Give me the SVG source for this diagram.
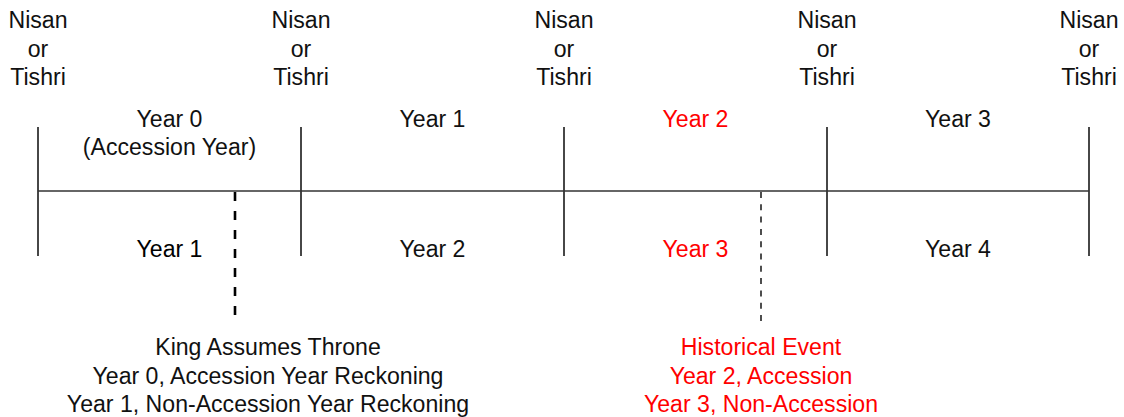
<svg xmlns="http://www.w3.org/2000/svg" width="1124" height="417" viewBox="0 0 1124 417">
  <style>
    text { font-family: "Liberation Sans", Arial, sans-serif; font-size: 23.1px; text-anchor: middle; fill: #111; }
    .red { fill: #ff0000; }
    .tick { stroke: #333; stroke-width: 1.8; fill: none; }
    .axis { stroke: #333; stroke-width: 1.6; fill: none; }
    .event-king { stroke: #000; stroke-width: 2.6; stroke-dasharray: 9 10; fill: none; }
    .event-hist { stroke: #222; stroke-width: 1.6; stroke-dasharray: 6 6.3; fill: none; }
  </style>
  <rect width="1124" height="417" fill="#ffffff"/>

  <!-- timeline axis and year boundaries -->
  <g id="connectors">
    <line class="axis" x1="38" y1="191" x2="1089" y2="191"/>
    <line class="tick" x1="38" y1="127" x2="38" y2="256"/>
    <line class="tick" x1="301" y1="127" x2="301" y2="256"/>
    <line class="tick" x1="564" y1="127" x2="564" y2="256"/>
    <line class="tick" x1="827" y1="127" x2="827" y2="256"/>
    <line class="tick" x1="1089" y1="127" x2="1089" y2="256"/>
    <line class="event-king" x1="235" y1="192" x2="235" y2="316"/>
    <line class="event-hist" x1="761" y1="192" x2="761" y2="322"/>
  </g>

  <!-- month boundary labels -->
  <g id="boundary-0"><text x="38" y="28">Nisan</text><text x="38" y="56.5">or</text><text x="38" y="85">Tishri</text></g>
  <g id="boundary-1"><text x="301" y="28">Nisan</text><text x="301" y="56.5">or</text><text x="301" y="85">Tishri</text></g>
  <g id="boundary-2"><text x="564" y="28">Nisan</text><text x="564" y="56.5">or</text><text x="564" y="85">Tishri</text></g>
  <g id="boundary-3"><text x="827" y="28">Nisan</text><text x="827" y="56.5">or</text><text x="827" y="85">Tishri</text></g>
  <g id="boundary-4"><text x="1089" y="28">Nisan</text><text x="1089" y="56.5">or</text><text x="1089" y="85">Tishri</text></g>

  <!-- accession-year reckoning (above the axis) -->
  <g id="accession-years">
    <text x="169.5" y="127">Year 0</text>
    <text x="169.5" y="154.5">(Accession Year)</text>
    <text x="432.5" y="127">Year 1</text>
    <text class="red" x="695.5" y="127">Year 2</text>
    <text x="958" y="127">Year 3</text>
  </g>

  <!-- non-accession-year reckoning (below the axis) -->
  <g id="non-accession-years">
    <text x="169.5" y="257" style="fill:#000">Year 1</text>
    <text x="432.5" y="257">Year 2</text>
    <text class="red" x="695.5" y="257">Year 3</text>
    <text x="958" y="257">Year 4</text>
  </g>

  <g id="king-event">
    <text x="268" y="355">King Assumes Throne</text>
    <text x="268" y="383.5">Year 0, Accession Year Reckoning</text>
    <text x="268" y="412">Year 1, Non-Accession Year Reckoning</text>
  </g>

  <g id="historical-event">
    <text class="red" x="761" y="355">Historical Event</text>
    <text class="red" x="761" y="383.5">Year 2, Accession</text>
    <text class="red" x="761" y="412">Year 3, Non-Accession</text>
  </g>
</svg>
